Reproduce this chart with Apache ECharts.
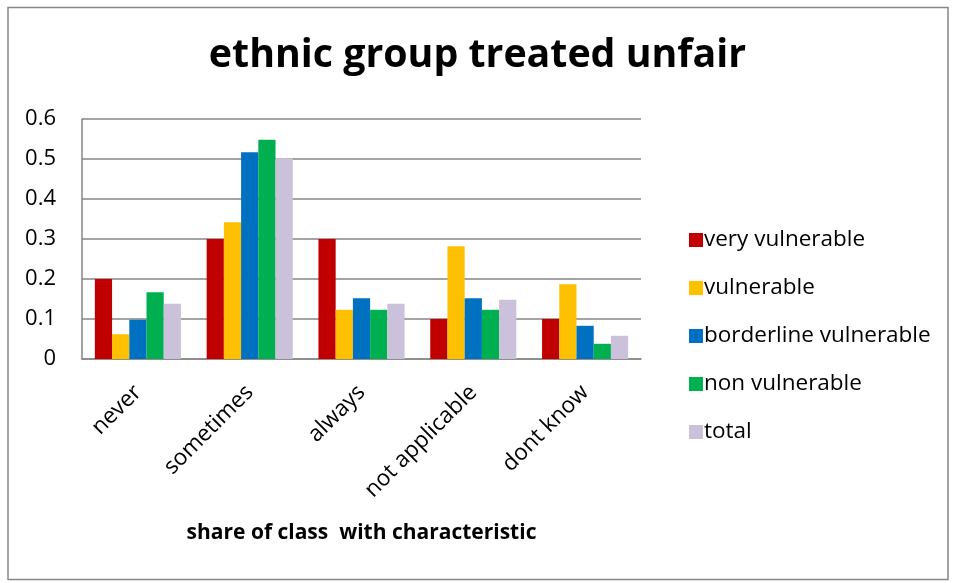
<!DOCTYPE html>
<html>
<head>
<meta charset="utf-8">
<script src="https://cdn.jsdelivr.net/npm/echarts@6/dist/echarts.min.js"></script>
<style>
  html, body { margin: 0; padding: 0; background: #fff; }
  #chart { width: 955px; height: 583px; }
</style>
</head>
<body>
<div id="chart"></div>
<script>
// Answer categories on the x axis
const categories = ['never', 'sometimes', 'always', 'not applicable', 'dont know'];

// Share of each vulnerability class giving each answer
const veryVulnerable       = [0.20, 0.30, 0.30, 0.10, 0.10];
const vulnerable           = [0.062, 0.342, 0.123, 0.282, 0.187];
const borderlineVulnerable = [0.098, 0.517, 0.152, 0.152, 0.083];
const nonVulnerable        = [0.167, 0.548, 0.123, 0.123, 0.038];
const total                = [0.138, 0.502, 0.138, 0.148, 0.058];

const seriesNames = ['very vulnerable', 'vulnerable', 'borderline vulnerable', 'non vulnerable', 'total'];
const seriesData = [veryVulnerable, vulnerable, borderlineVulnerable, nonVulnerable, total];
const colors = ['#C00000', '#FFC000', '#0070C0', '#00B050', '#CCC1DA'];

const FONT = '"Open Sans", Lato, sans-serif';
const GRID_COLOR = '#868686';

const chart = echarts.init(document.getElementById('chart'), null, { renderer: 'canvas' });

chart.setOption({
  animation: false,
  backgroundColor: '#ffffff',
  color: colors,
  title: {
    text: 'ethnic group treated unfair',
    left: 'center',
    top: 31,
    textStyle: { fontFamily: FONT, fontWeight: 'bold', fontSize: 39.3, color: '#000' }
  },
  legend: {
    orient: 'vertical',
    left: 684,
    top: 223.5,
    itemWidth: 14,
    itemHeight: 14,
    itemGap: 25,
    icon: 'rect',
    textStyle: { fontFamily: FONT, fontSize: 22.5, lineHeight: 22.5, color: '#000', padding: [0, 0, 0, -4] },
    data: seriesNames
  },
  grid: { left: 82, right: 314, top: 119, bottom: 224, containLabel: false },
  xAxis: {
    type: 'category',
    data: categories,
    name: 'share of class  with characteristic',
    nameLocation: 'middle',
    nameGap: 164,
    nameTextStyle: { fontFamily: FONT, fontWeight: 'bold', fontSize: 21, color: '#000' },
    axisLine: { show: true, lineStyle: { color: GRID_COLOR, width: 1.5 } },
    axisTick: { show: false },
    axisLabel: { rotate: 45, interval: 0, margin: 30, fontFamily: FONT, fontSize: 22.5, color: '#000' }
  },
  yAxis: {
    type: 'value',
    min: 0,
    max: 0.6,
    interval: 0.1,
    axisLine: { show: true, lineStyle: { color: GRID_COLOR, width: 1.5 } },
    axisTick: { show: false },
    axisLabel: { margin: 26, fontFamily: FONT, fontSize: 22, color: '#000' },
    splitLine: { show: true, lineStyle: { color: GRID_COLOR, width: 1.5 } }
  },
  series: seriesNames.map((name, i) => ({
    name: name,
    type: 'bar',
    data: seriesData[i],
    barGap: '0%',
    barCategoryGap: '23%',
    itemStyle: { color: colors[i] }
  })),
  graphic: [{
    type: 'rect',
    shape: { x: 8, y: 7.5, width: 940, height: 572 },
    style: { fill: null, stroke: GRID_COLOR, lineWidth: 1.5 },
    silent: true,
    z: -1
  }]
});
</script>
</body>
</html>
